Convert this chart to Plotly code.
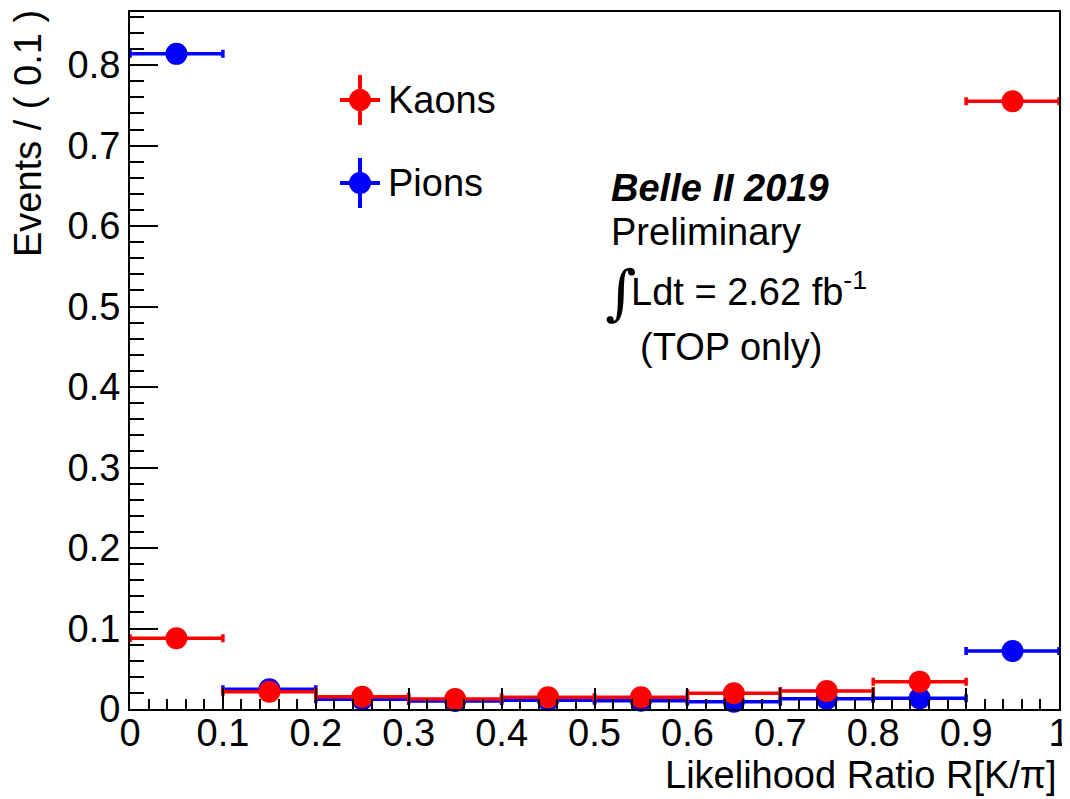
import plotly.graph_objects as go

bin_centers = [0.05, 0.15, 0.25, 0.35, 0.45, 0.55, 0.65, 0.75, 0.85, 0.95]
bin_half_width = [0.05] * 10
kaons = [0.088, 0.0215, 0.0153, 0.0124, 0.0145, 0.0145, 0.0195, 0.0224, 0.034, 0.755]
pions = [0.814, 0.0245, 0.012, 0.0099, 0.011, 0.0103, 0.009, 0.0128, 0.0133, 0.072]
x_ticks = [0, 0.1, 0.2, 0.3, 0.4, 0.5, 0.6, 0.7, 0.8, 0.9, 1]
x_tick_labels = ["0", "0.1", "0.2", "0.3", "0.4", "0.5", "0.6", "0.7", "0.8", "0.9", "1"]
y_ticks = [0, 0.1, 0.2, 0.3, 0.4, 0.5, 0.6, 0.7, 0.8]
y_tick_labels = ["0", "0.1", "0.2", "0.3", "0.4", "0.5", "0.6", "0.7", "0.8"]

RED = "#ff0000"
BLUE = "#0000ff"
FONT = "Liberation Sans, Arial, sans-serif"
FS = 38

fig = go.Figure()


def add_series(y, color, name):
    fig.add_trace(go.Scatter(
        x=bin_centers, y=y, mode="markers", name=name,
        marker=dict(color=color, size=22, symbol="circle"),
        error_x=dict(type="data", array=bin_half_width, color=color,
                     thickness=3.5, width=4),
        cliponaxis=False, showlegend=False,
    ))


add_series(pions, BLUE, "Pions")
add_series(kaons, RED, "Kaons")

axis_common = dict(
    showline=True, linecolor="black", linewidth=2, mirror=True,
    ticks="inside", tickcolor="black", tickwidth=1.5,
    showgrid=False, zeroline=False, automargin=False,
    tickfont=dict(family=FONT, size=FS, color="black"),
)

fig.update_xaxes(
    range=[0, 1], tickmode="array", tickvals=x_ticks, ticktext=x_tick_labels,
    ticklen=21, ticklabelstandoff=-11,
    minor=dict(ticks="inside", ticklen=10, dtick=0.02, tickcolor="black",
               tickwidth=1.5, showgrid=False),
    **axis_common,
)
fig.update_yaxes(
    range=[0, 0.866], tickmode="array", tickvals=y_ticks, ticktext=y_tick_labels,
    ticklen=28,
    minor=dict(ticks="inside", ticklen=14, dtick=0.02, tickcolor="black",
               tickwidth=1.5, showgrid=False),
    **axis_common,
)

# Legend drawn manually (ROOT style marker with error cross)
leg_x = 0.2476
leg_items = [((709 - 100) / 697, RED, "Kaons"), ((709 - 183) / 697, BLUE, "Pions")]
shapes = []
annotations = []
for ly, col, label in leg_items:
    shapes.append(dict(type="line", xref="paper", yref="paper", xsizemode="pixel",
                       ysizemode="pixel", xanchor=leg_x, yanchor=ly,
                       x0=0, x1=0, y0=-25, y1=25, line=dict(color=col, width=4)))
    shapes.append(dict(type="line", xref="paper", yref="paper", xsizemode="pixel",
                       ysizemode="pixel", xanchor=leg_x, yanchor=ly,
                       x0=-20, x1=20, y0=0, y1=0, line=dict(color=col, width=4)))
    shapes.append(dict(type="circle", xref="paper", yref="paper", xsizemode="pixel",
                       ysizemode="pixel", xanchor=leg_x, yanchor=ly,
                       x0=-11, x1=11, y0=-11, y1=11, fillcolor=col,
                       line=dict(color=col, width=0)))
    annotations.append(dict(xref="paper", yref="paper", x=(386 - 130) / 929, y=ly,
                            xanchor="left", yanchor="middle", showarrow=False,
                            text=label, font=dict(family=FONT, size=FS, color="black")))

# Belle II text block
txt_x = (609 - 130) / 929
annotations += [
    dict(xref="paper", yref="paper", x=txt_x, y=(709 - 188) / 697, xanchor="left",
         yanchor="middle", showarrow=False, text="<b><i>Belle II 2019</i></b>",
         font=dict(family=FONT, size=FS, color="black")),
    dict(xref="paper", yref="paper", x=txt_x, y=(709 - 232) / 697, xanchor="left",
         yanchor="middle", showarrow=False, text="Preliminary",
         font=dict(family=FONT, size=FS, color="black")),
    dict(xref="paper", yref="paper", x=(603 - 130) / 929, y=(709 - 292) / 697,
         xanchor="left", yanchor="middle", showarrow=False, text="∫",
         font=dict(family="DejaVu Serif", size=60, color="black")),
    dict(xref="paper", yref="paper", x=(629 - 130) / 929, y=(709 - 289) / 697,
         xanchor="left", yanchor="middle", showarrow=False,
         text="Ldt = 2.62 fb<sup>-1</sup>",
         font=dict(family=FONT, size=FS, color="black")),
    dict(xref="paper", yref="paper", x=(638 - 130) / 929, y=(709 - 347) / 697,
         xanchor="left", yanchor="middle", showarrow=False, text="(TOP only)",
         font=dict(family=FONT, size=FS, color="black")),
    # axis titles
    dict(xref="paper", yref="paper", x=1, y=(709 - 775) / 697, xanchor="right",
         yanchor="middle", showarrow=False, text="Likelihood Ratio R[K/π]",
         font=dict(family=FONT, size=FS, color="black")),
    dict(xref="paper", yref="paper", x=(28 - 130) / 929, y=(709 - 134) / 697,
         xanchor="center", yanchor="middle", showarrow=False,
         text="Events / ( 0.1 )", textangle=-90,
         font=dict(family=FONT, size=FS, color="black")),
]

# the page body adds an 8 px margin; compensate so the plot frame lands
# at the same place as in the reference
fig.update_layout(
    width=1062, height=791,
    margin=dict(l=122, r=11, t=4, b=90),
    paper_bgcolor="white", plot_bgcolor="white",
    shapes=shapes, annotations=annotations,
    showlegend=False,
)

fig.write_html("out.html")
